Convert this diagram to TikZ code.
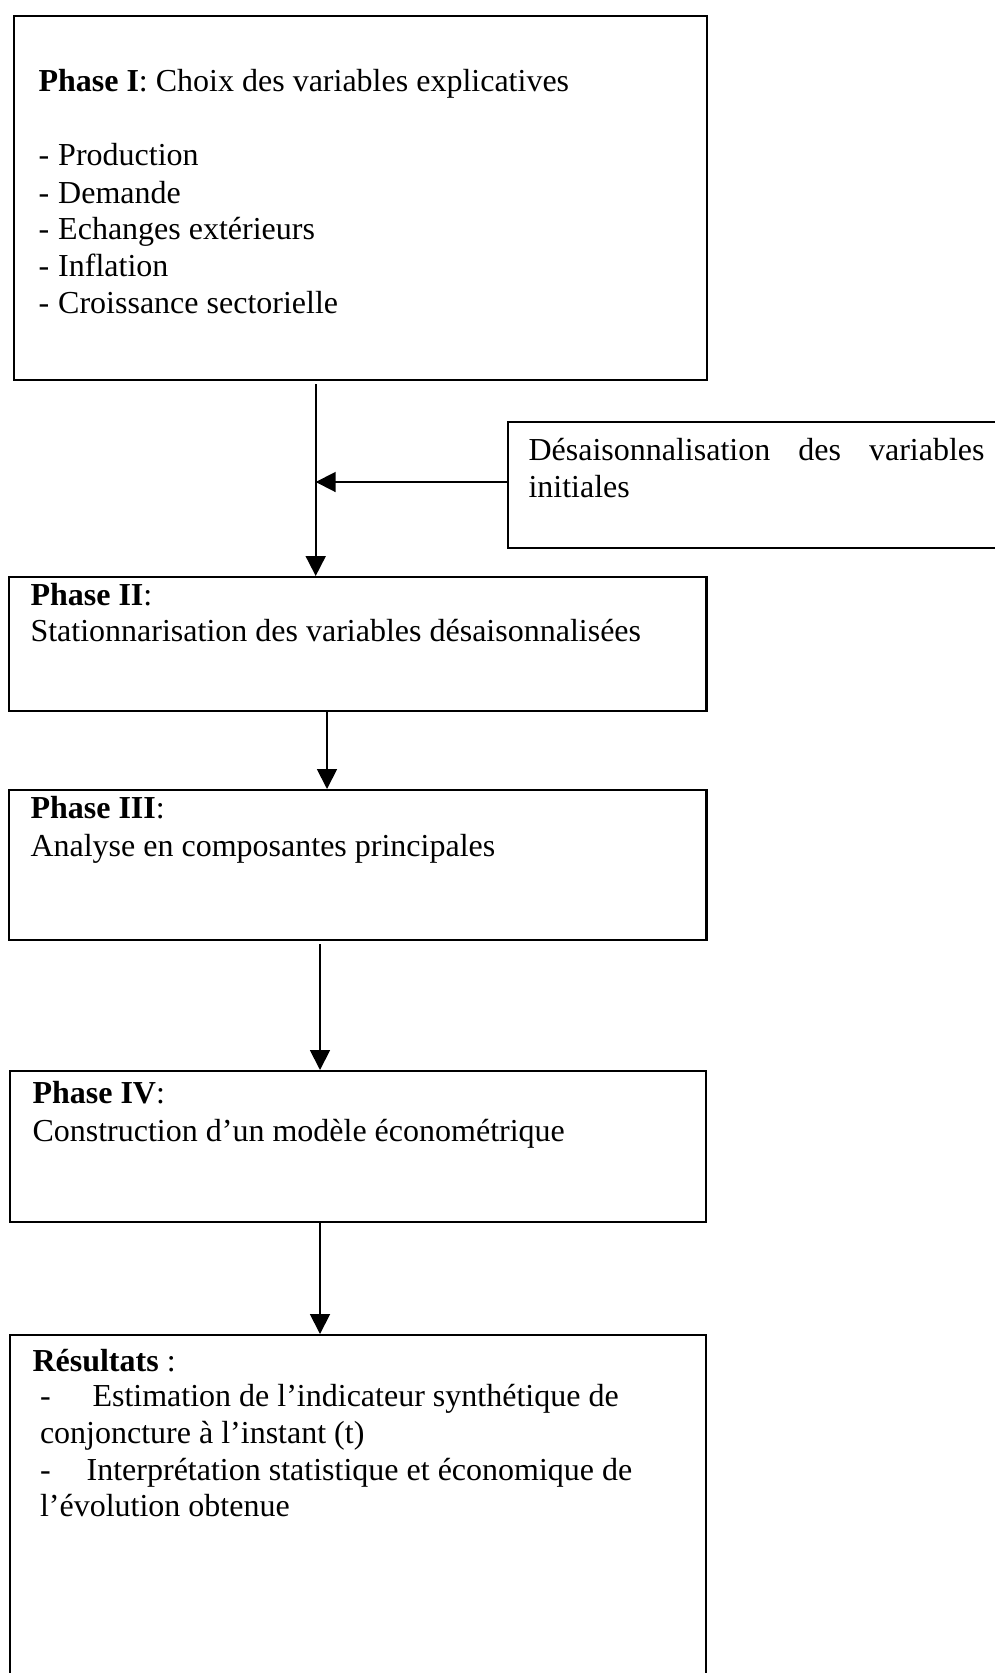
\documentclass[tikz,border=0pt]{standalone}
\usepackage{fontspec}
\setmainfont{Liberation Serif}
\usetikzlibrary{arrows.meta}
\tikzset{
  box/.style={draw, line width=0.9pt, inner sep=0pt, anchor=north west},
  txt/.style={anchor=base west, inner sep=0pt, font=\fontsize{12pt}{13.8pt}\selectfont},
  arr/.style={line width=0.7pt, -{Triangle[length=7.5pt,width=7.5pt]}}
}
\begin{document}
\begin{tikzpicture}[x=0.375pt,y=-0.375pt]
\useasboundingbox (0,0) rectangle (995,1673);
\clip (0,0) rectangle (995,1673);
% boxes
\node[box, minimum width=259.95pt, minimum height=136.4pt] (b1) at (12.8,14.9) {};
\node[box, minimum width=188.8pt, minimum height=47.25pt] (bd) at (506.6,421) {};
\node[box, minimum width=261.6pt, minimum height=50.25pt] (b2) at (7.5,576) {};
\node[box, minimum width=261.6pt, minimum height=56.06pt] (b3) at (7.5,789) {};
\node[box, minimum width=261.2pt, minimum height=56.6pt] (b4) at (8.5,1070) {};
\node[box, minimum width=261.2pt, minimum height=137.25pt] (b5) at (8.5,1334) {};
% texts box 1
\node[txt] (t1) at (38,92) {\textbf{Phase I}: Choix des variables explicatives};
\node[txt] (t1a) at (38,166) {-\hspace{3.4pt}Production};
\node[txt] (t1b) at (38,203) {-\hspace{3.4pt}Demande};
\node[txt] (t1c) at (38,239.5) {-\hspace{3.4pt}Echanges extérieurs};
\node[txt] (t1d) at (38,276) {-\hspace{3.4pt}Inflation};
\node[txt] (t1e) at (38,313) {-\hspace{3.4pt}Croissance sectorielle};
% desaisonnalisation
\node[txt] (td1) at (528,460) {\hbox to 171pt{Désaisonnalisation\hfill des\hfill variables}};
\node[txt] (td2) at (528,497) {initiales};
% box 2
\node[txt] (t2a) at (30,605) {\textbf{Phase II}:};
\node[txt] (t2b) at (30,641) {Stationnarisation des variables désaisonnalisées};
% box 3
\node[txt] (t3a) at (30,818) {\textbf{Phase III}:};
\node[txt] (t3b) at (30,856) {Analyse en composantes principales};
% box 4
\node[txt] (t4a) at (32,1103) {\textbf{Phase IV}:};
\node[txt] (t4b) at (32,1141) {Construction d’un modèle économétrique};
% box 5
\node[txt] (t5a) at (32,1371) {\textbf{Résultats} :};
\node[txt] (t5b) at (39.5,1406) {-\hspace{15.7pt}Estimation de l’indicateur synthétique de};
\node[txt] (t5c) at (39.5,1443) {conjoncture à l’instant (t)};
\node[txt] (t5d) at (39.5,1480) {-\hspace{13.5pt}Interprétation statistique et économique de};
\node[txt] (t5e) at (39.5,1516) {l’évolution obtenue};
% connectors
\coordinate (s1) at (315.7,384);
\coordinate (h1) at (315.7,482);
\coordinate (s2) at (327,0);
\coordinate (s3) at (320,944);
\coordinate (s4) at (320,0);
\draw[arr] (s1) -- (s1 |- b2.north);
\draw[arr] (bd.west |- h1) -- (h1);
\draw[arr] (s2 |- b2.south) -- (s2 |- b3.north);
\draw[arr] (s3) -- (s3 |- b4.north);
\draw[arr] (s4 |- b4.south) -- (s4 |- b5.north);
\end{tikzpicture}
\end{document}
